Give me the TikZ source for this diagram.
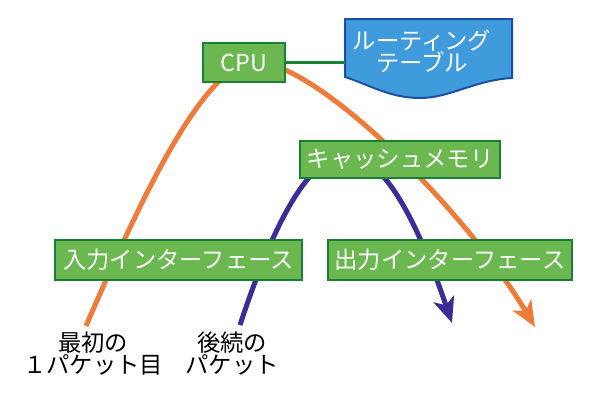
\documentclass[tikz,border=0pt]{standalone}
\usepackage{fontspec}
\setmainfont{Noto Sans CJK JP}
\usetikzlibrary{arrows.meta}

\definecolor{boxfill}{HTML}{6AB84F}
\definecolor{boxline}{HTML}{1A8036}
\definecolor{tablefill}{HTML}{3F9BDC}
\definecolor{tableline}{HTML}{1D50A5}
\definecolor{firstpkt}{HTML}{EE7B3A}
\definecolor{nextpkt}{HTML}{3B2C97}

\tikzset{every picture/.style={line width=0.75pt}}
\tikzset{
  unitbox/.style={draw=boxline, fill=boxfill, line width=1.5pt, text=white,
    font=\fontsize{17.5}{17.5}\selectfont, inner sep=0pt},
  pktlabel/.style={align=center, inner sep=0pt, font=\fontsize{17.5}{16.5}\selectfont},
  firstflow/.style={draw=firstpkt, line width=3.75pt,
    -{Stealth[length=19pt,width=16pt,inset=5pt]}},
  nextflow/.style={draw=nextpkt, line width=3.75pt,
    -{Stealth[length=19pt,width=16pt,inset=5pt]}},
}

\begin{document}
\begin{tikzpicture}[x=0.75pt,y=0.75pt,yscale=-1,xscale=1]
\useasboundingbox (0,0) rectangle (600,400);

% Text Node
\node (first) [pktlabel] at (93,354) {最初の\\１パケット目};
% Text Node
\node (next) [pktlabel] at (232,354) {後続の\\パケット};

\coordinate (firstin) at (86,326);
\coordinate (firstout) at (535,327);
\coordinate (nextin) at (240,325);
\coordinate (nextout) at (452,323);

%Curve Lines
\draw [firstflow] (firstin) .. controls (136.5,208.7) and (203,62) .. (255,62)
  .. controls (317,62) and (465,209.5) .. (firstout);
%Curve Lines
\draw [nextflow] (nextin) .. controls (313,103) and (376.4,101.6) .. (nextout);

%Routing table
\draw [draw=tableline, fill=tablefill, line width=1.5pt] (345,19) -- (512,19) -- (512,78)
  .. controls (475,80) and (450,98) .. (420,98)
  .. controls (390,98) and (370,85) .. (345,77) -- cycle;
\coordinate (tblw) at (345,65);
% Text Node
\node (rtable) [align=center, inner sep=0pt, text=white, font=\fontsize{17.5}{16.5}\selectfont]
  at (422,51) {ルーティング\\テーブル};

% Boxes
\node (cpu) [unitbox, minimum width=61.5pt, minimum height=29pt] at (244,62.5) {CPU};
\node (cache) [unitbox, minimum width=150pt, minimum height=27.75pt] at (400,159.5) {キャッシュメモリ};
\node (inif) [unitbox, minimum width=185pt, minimum height=30pt] at (178.5,260) {入力インターフェース};
\node (outif) [unitbox, minimum width=183pt, minimum height=30pt] at (450,260) {出力インターフェース};

%Straight Lines
\draw [boxline, line width=2.25pt] (cpu.east) -- (cpu.east -| tblw);

\end{tikzpicture}
\end{document}
